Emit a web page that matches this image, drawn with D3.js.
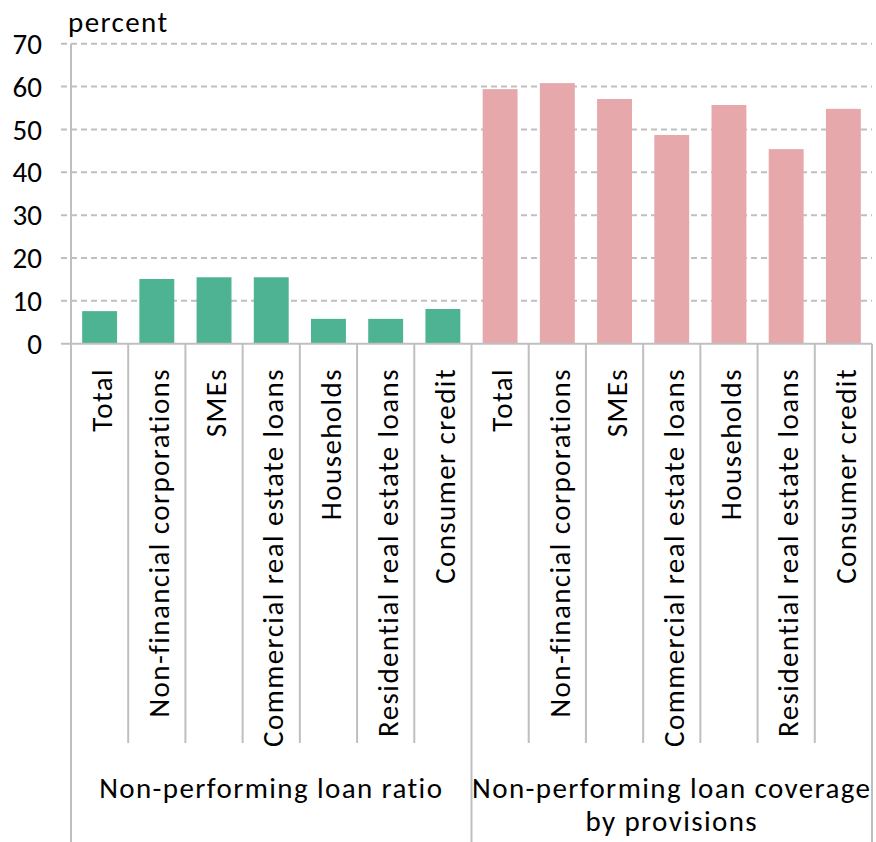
<!DOCTYPE html>
<html>
<head>
<meta charset="utf-8">
<script src="https://cdn.jsdelivr.net/npm/d3@7"></script>
<style>
  html, body { margin: 0; padding: 0; background: #fff; }
  svg { display: block; font-family: Carlito, Calibri, Lato, "Open Sans", sans-serif; }
  .lbl { font-size: 29px; letter-spacing: 1.4px; fill: #000; }
  .tick { font-size: 29px; fill: #000; }
</style>
</head>
<body>
<div id="chart"></div>
<script>
// Category labels (repeated in each group)
const categories = [
  "Total",
  "Non-financial corporations",
  "SMEs",
  "Commercial real estate loans",
  "Households",
  "Residential real estate loans",
  "Consumer credit"
];

// Group titles (second one wraps over two lines)
const groups = [
  ["Non-performing loan ratio"],
  ["Non-performing loan coverage", "by provisions"]
];

// Values, percent
const nplRatio    = [7.6, 15.1, 15.5, 15.5, 5.8, 5.8, 8.1];
const nplCoverage = [59.4, 60.8, 57.1, 48.7, 55.7, 45.4, 54.8];

const yTicks = [0, 10, 20, 30, 40, 50, 60, 70];
const groupColors = ["#4db392", "#e6a8ab"];

const rows = [];
[nplRatio, nplCoverage].forEach((vals, g) => {
  vals.forEach((v, i) => rows.push({ key: g + "-" + i, group: g, label: categories[i], value: v }));
});

const W = 876, H = 842;
const plotLeft = 71, plotRight = 872, plotTop = 43.7, plotBottom = 343.7;
const sepBottom = 743;
const gridColor = "#bfbfbf";

const svg = d3.select("#chart").append("svg")
  .attr("width", W).attr("height", H);

const x = d3.scaleBand()
  .domain(rows.map(d => d.key))
  .range([plotLeft, plotRight])
  .paddingInner(0.39)
  .paddingOuter(0.195);

const y = d3.scaleLinear().domain([0, 70]).range([plotBottom, plotTop]);

// Dashed horizontal gridlines
svg.append("g").selectAll("line")
  .data(yTicks.filter(t => t > 0))
  .join("line")
  .attr("x1", plotLeft - 10).attr("x2", plotRight)
  .attr("y1", d => y(d)).attr("y2", d => y(d))
  .attr("stroke", gridColor).attr("stroke-width", 2)
  .attr("stroke-dasharray", "6,4");

// Y tick labels
svg.append("g").selectAll("text")
  .data(yTicks)
  .join("text")
  .attr("class", "tick")
  .attr("x", 42).attr("y", d => y(d))
  .attr("dy", "0.35em")
  .attr("text-anchor", "end")
  .text(d => d);

// Unit label
svg.append("text")
  .attr("class", "lbl")
  .attr("x", 68).attr("y", 32)
  .text("percent");

// Bars
svg.append("g").selectAll("rect")
  .data(rows)
  .join("rect")
  .attr("x", d => x(d.key))
  .attr("width", x.bandwidth())
  .attr("y", d => y(d.value))
  .attr("height", d => y(0) - y(d.value))
  .attr("fill", d => groupColors[d.group]);

// Axis lines
svg.append("line")
  .attr("x1", plotLeft - 10).attr("x2", plotRight)
  .attr("y1", plotBottom).attr("y2", plotBottom)
  .attr("stroke", gridColor).attr("stroke-width", 2);
svg.append("line")
  .attr("x1", plotLeft).attr("x2", plotLeft)
  .attr("y1", plotTop).attr("y2", H)
  .attr("stroke", gridColor).attr("stroke-width", 2);

// Category separators: short ones inside a group, full-height ones between groups
const step = x.step();
const n = rows.length;
const perGroup = categories.length;
const seps = d3.range(1, n + 1).map(k => ({
  x: plotLeft + k * step,
  full: k % perGroup === 0
}));
svg.append("g").selectAll("line")
  .data(seps)
  .join("line")
  .attr("x1", d => d.x).attr("x2", d => d.x)
  .attr("y1", plotBottom).attr("y2", d => d.full ? H : sepBottom)
  .attr("stroke", gridColor).attr("stroke-width", 2);

// Rotated category labels
svg.append("g").selectAll("text")
  .data(rows)
  .join("text")
  .attr("class", "lbl")
  .attr("transform", d => `translate(${x(d.key) + x.bandwidth() / 2},368) rotate(-90)`)
  .attr("dy", "0.42em")
  .attr("text-anchor", "end")
  .text(d => d.label);

// Group titles
groups.forEach((lines, g) => {
  const x0 = plotLeft + g * perGroup * step;
  const x1 = x0 + perGroup * step;
  const t = svg.append("text")
    .attr("class", "lbl")
    .attr("x", (x0 + x1) / 2)
    .attr("y", 798)
    .attr("text-anchor", "middle");
  lines.forEach((s, i) => {
    t.append("tspan")
      .attr("x", (x0 + x1) / 2)
      .attr("dy", i === 0 ? 0 : 33)
      .text(s);
  });
});
</script>
</body>
</html>
